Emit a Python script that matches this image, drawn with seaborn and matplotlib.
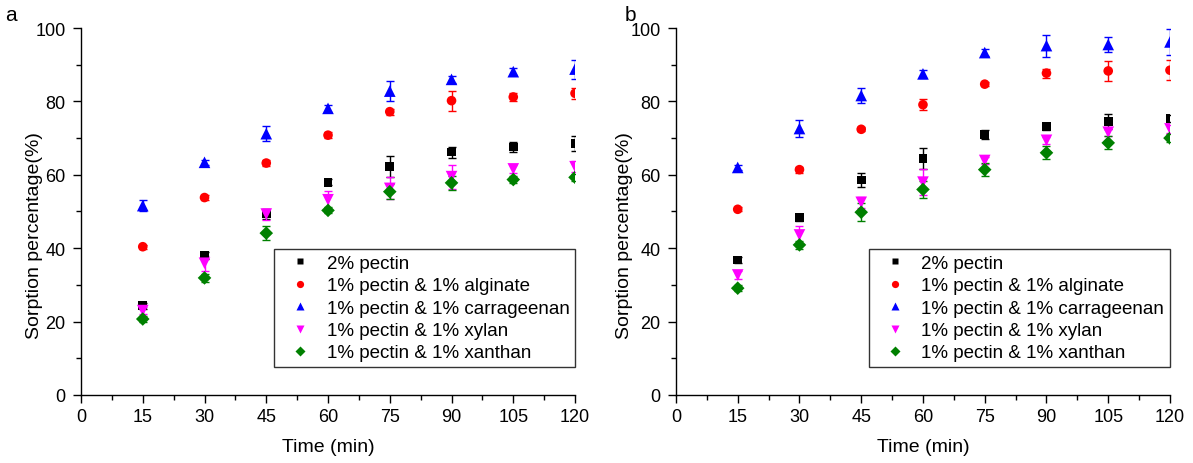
import numpy as np
import pandas as pd
import matplotlib
matplotlib.use("Agg")
import matplotlib.pyplot as plt
import seaborn as sns
from matplotlib.ticker import MultipleLocator

time = [15, 30, 45, 60, 75, 90, 105, 120]
series_names = ["2% pectin", "1% pectin & 1% alginate", "1% pectin & 1% carrageenan",
                "1% pectin & 1% xylan", "1% pectin & 1% xanthan"]

# Panel a
a_pectin = [24.3, 38.0, 49.3, 58.0, 62.3, 66.2, 67.6, 68.5]
a_alginate = [40.4, 53.8, 63.2, 70.8, 77.2, 80.2, 81.2, 82.2]
a_carrageenan = [51.6, 63.4, 71.2, 78.1, 82.8, 86.0, 88.1, 88.8]
a_xylan = [23.0, 35.9, 49.3, 53.2, 56.3, 59.5, 61.6, 62.2]
a_xanthan = [20.7, 31.9, 44.1, 50.3, 55.4, 57.8, 58.7, 59.3]
a_pectin_err = [0.8, 1.0, 1.3, 0.8, 2.8, 1.5, 1.3, 2.0]
a_alginate_err = [0.6, 0.6, 0.8, 0.8, 0.8, 2.7, 1.0, 1.5]
a_carrageenan_err = [1.5, 0.6, 2.1, 1.0, 2.8, 1.0, 1.0, 2.6]
a_xylan_err = [1.0, 2.0, 1.5, 2.5, 3.0, 3.3, 1.0, 1.5]
a_xanthan_err = [0.8, 1.0, 2.0, 0.8, 2.0, 2.0, 1.0, 1.0]

# Panel b
b_pectin = [36.8, 48.4, 58.6, 64.5, 70.9, 73.1, 74.6, 75.3]
b_alginate = [50.6, 61.4, 72.4, 79.1, 84.7, 87.7, 88.3, 88.5]
b_carrageenan = [62.0, 72.6, 81.6, 87.5, 93.3, 95.2, 95.5, 96.2]
b_xylan = [32.7, 43.6, 52.5, 58.0, 63.9, 69.4, 71.6, 72.5]
b_xanthan = [29.1, 40.9, 49.8, 56.0, 61.4, 66.0, 68.7, 70.0]
b_pectin_err = [0.8, 1.0, 1.8, 2.8, 1.2, 0.9, 2.1, 1.0]
b_alginate_err = [0.6, 0.8, 0.6, 1.5, 0.6, 1.2, 2.7, 2.7]
b_carrageenan_err = [0.6, 2.2, 2.0, 1.0, 1.0, 3.0, 2.0, 3.5]
b_xylan_err = [1.2, 2.4, 1.5, 3.6, 1.0, 1.0, 1.0, 1.0]
b_xanthan_err = [0.8, 1.0, 2.5, 2.3, 1.8, 1.8, 1.8, 1.0]

colors = ["#000000", "#ff0000", "#0000ff", "#ff00ff", "#008000"]
markers = ["s", "o", "^", "v", "D"]
marker_areas = [40, 48, 70, 70, 48]

x_ticks = [0, 15, 30, 45, 60, 75, 90, 105, 120]
y_ticks = [0, 20, 40, 60, 80, 100]

sns.set_style("ticks")
plt.rcParams["font.family"] = ["Liberation Sans", "DejaVu Sans"]
plt.rcParams.update({
    "text.color": "black", "axes.labelcolor": "black",
    "xtick.color": "black", "ytick.color": "black",
    "axes.edgecolor": "black",
})

fig = plt.figure(figsize=(11.93, 4.64), dpi=100)
ax_a = fig.add_axes([0.0679, 0.1466, 0.4141, 0.7909])
ax_b = fig.add_axes([0.5666, 0.1466, 0.4141, 0.7909])

panels = [
    (ax_a, [a_pectin, a_alginate, a_carrageenan, a_xylan, a_xanthan],
     [a_pectin_err, a_alginate_err, a_carrageenan_err, a_xylan_err, a_xanthan_err], -0.076),
    (ax_b, [b_pectin, b_alginate, b_carrageenan, b_xylan, b_xanthan],
     [b_pectin_err, b_alginate_err, b_carrageenan_err, b_xylan_err, b_xanthan_err], -0.087),
]

for ax, vals, errs, ylab_x in panels:
    rows = []
    for name, v in zip(series_names, vals):
        for t, y in zip(time, v):
            rows.append({"Time": t, "Sorption": y, "Series": name})
    df = pd.DataFrame(rows)
    for name, v, e, c in zip(series_names, vals, errs, colors):
        ax.errorbar(time, v, yerr=e, fmt="none", ecolor=c, elinewidth=1.0,
                    capsize=3, capthick=1.0, zorder=2)
    sns.scatterplot(data=df, x="Time", y="Sorption", hue="Series", style="Series",
                    size="Series",
                    hue_order=series_names, style_order=series_names,
                    size_order=series_names,
                    sizes=dict(zip(series_names, marker_areas)),
                    palette=colors, markers=markers, edgecolor="none",
                    ax=ax, zorder=3)
    ax.set_xlim(0, 120)
    ax.set_ylim(0, 100)
    ax.set_xticks(x_ticks)
    ax.set_yticks(y_ticks)
    ax.xaxis.set_minor_locator(MultipleLocator(7.5))
    ax.yaxis.set_minor_locator(MultipleLocator(10))
    ax.tick_params(which="major", direction="out", length=6, width=1, labelsize=13)
    ax.tick_params(axis="x", which="major", pad=3.5)
    ax.tick_params(axis="y", which="major", pad=5)
    ax.tick_params(which="minor", direction="out", length=3.5, width=1)
    for s in ["top", "right"]:
        ax.spines[s].set_visible(False)
    for s in ["left", "bottom"]:
        ax.spines[s].set_linewidth(1.0)
    ax.set_xlabel("Time (min)", fontsize=14, labelpad=9)
    ax.set_ylabel("Sorption percentage(%)", fontsize=14)
    ax.yaxis.set_label_coords(ylab_x, 0.436)
    leg = ax.legend(loc="lower right", bbox_to_anchor=(1.0, 0.076), borderaxespad=0,
                    fontsize=13.5, frameon=True, fancybox=False, edgecolor="black",
                    handlelength=2.2, handletextpad=0.3, labelspacing=0.28,
                    borderpad=0.3, markerscale=0.75)
    leg.get_frame().set_linewidth(1.0)
    leg.set_zorder(5)

fig.text(0.004, 0.988, "a", fontsize=15, ha="left", va="top")
fig.text(0.524, 0.988, "b", fontsize=15, ha="left", va="top")

fig.savefig("out.png", dpi=100)
